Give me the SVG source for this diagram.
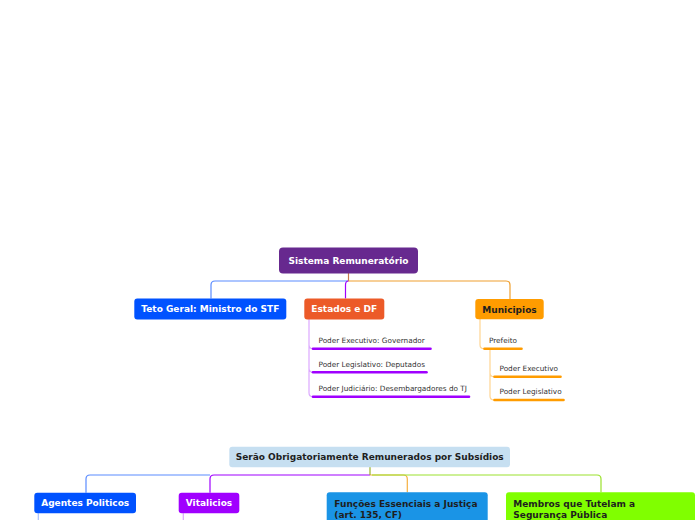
<svg xmlns="http://www.w3.org/2000/svg" width="696" height="520" viewBox="0 0 696 520">
<style>
.t{font-family:"DejaVu Sans","Verdana",sans-serif;font-weight:bold;font-size:9px;}
.w{fill:#ffffff;}
.d{fill:#1e1e1e;}
.s{font-family:"DejaVu Sans","Verdana",sans-serif;font-size:7.3px;fill:#333333;}
.c{fill:none;stroke-width:1.2;}
.u{fill:none;stroke-width:2.6;stroke-linecap:round;}
</style>
<rect width="696" height="520" fill="#ffffff"/>
<g id="connectors">
  <path class="c" stroke="#c9784a" stroke-width="2" d="M348.5,273 V281"/>
  <path class="c" stroke="#5b8cff" d="M348,281 H215 Q211,281 211,285 V298.5"/>
  <path class="c" stroke="#f0a030" d="M348,281 H506 Q510,281 510,285 V299"/>
  <path class="c" stroke="#a000ff" d="M348.5,281 Q345.5,281 345.5,285 V298.5"/>
  <path class="c" stroke="#dca8ff" d="M309,319 V344.7 Q309,348.7 313,348.7 M309,344 V368.3 Q309,372.3 313,372.3 M309,368 V392.7 Q309,396.7 313,396.7"/>
  <path class="c" stroke="#ffd592" d="M480,319 V344.7 Q480,348.7 484,348.7"/>
  <path class="c" stroke="#ffd592" d="M490,348.7 V372.7 Q490,376.7 494,376.7 M490,372 V396 Q490,400 494,400"/>
  <path class="c" stroke="#5b8cff" d="M210,475 H90 Q86,475 86,479 V492.7"/>
  <path class="c" stroke="#f5b040" d="M370,475 H403.3 Q407.3,475 407.3,479 V492.3"/>
  <path class="c" stroke="#9be22e" d="M372,475 H597 Q601,475 601,479 V492.3"/>
  <path class="c" stroke="#a000ff" d="M370,475 H214 Q210,475 210,479 V492.7"/>
  <path class="c" stroke="#9ab32a" stroke-width="2" d="M370,467 V475"/>
  <path class="c" stroke="#a8c0ff" d="M38.3,513.3 V520"/>
  <path class="c" stroke="#dca8ff" d="M183.3,513.3 V520"/>
</g>
<g id="root">
  <rect x="279" y="247.5" width="139" height="26" rx="4" fill="#67298f"/>
  <text class="t w" x="348.5" y="264.3" text-anchor="middle">Sistema Remuneratório</text>
</g>
<g id="teto">
  <rect x="134.3" y="298.5" width="152" height="21" rx="3" fill="#0052ff"/>
  <text class="t w" x="210.3" y="312.2" text-anchor="middle">Teto Geral: Ministro do STF</text>
</g>
<g id="estados">
  <rect x="304.3" y="298.5" width="80" height="21" rx="3" fill="#ec5a28"/>
  <text class="t w" x="344.3" y="312.2" text-anchor="middle">Estados e DF</text>
</g>
<g id="est-exec">
  <text class="s" x="318.5" y="343">Poder Executivo: Governador</text>
  <path class="u" stroke="#a000ff" d="M313,348.7 H430.5"/>
</g>
<g id="est-leg">
  <text class="s" x="318.5" y="366.8">Poder Legislativo: Deputados</text>
  <path class="u" stroke="#a000ff" d="M313,372.3 H426.5"/>
</g>
<g id="est-jud">
  <text class="s" x="318.5" y="391">Poder Judiciário: Desembargadores do TJ</text>
  <path class="u" stroke="#a000ff" d="M313,396.7 H469"/>
</g>
<g id="municipios">
  <rect x="475.3" y="299" width="68.4" height="20.3" rx="3" fill="#ff9c00"/>
  <text class="t d" x="509.5" y="312.5" text-anchor="middle">Municipios</text>
</g>
<g id="prefeito">
  <text class="s" x="489" y="343">Prefeito</text>
  <path class="u" stroke="#ff9c00" d="M484.5,348.7 H521.5"/>
</g>
<g id="mun-exec">
  <text class="s" x="499.5" y="371">Poder Executivo</text>
  <path class="u" stroke="#ff9c00" d="M494.5,376.7 H560.5"/>
</g>
<g id="mun-leg">
  <text class="s" x="499.5" y="394.3">Poder Legislativo</text>
  <path class="u" stroke="#ff9c00" d="M494.5,400 H563.5"/>
</g>
<g id="subsidios">
  <rect x="229.3" y="446.7" width="280.7" height="20.6" rx="3" fill="#c6dff1"/>
  <text class="t d" x="369.7" y="460.2" text-anchor="middle">Serão Obrigatoriamente Remunerados por Subsídios</text>
</g>
<g id="agentes">
  <rect x="34.3" y="492.7" width="101.7" height="20.6" rx="3" fill="#0052ff"/>
  <text class="t w" x="85.2" y="506.2" text-anchor="middle">Agentes Politicos</text>
</g>
<g id="vitalicios">
  <rect x="178.7" y="492.7" width="60.6" height="20.6" rx="3" fill="#a000ff"/>
  <text class="t w" x="209" y="506.2" text-anchor="middle">Vitalicios</text>
</g>
<g id="funcoes">
  <rect x="326.7" y="492.3" width="161" height="40" rx="3" fill="#1a94e6"/>
  <text class="t d" x="334.3" y="506.6">Funções Essenciais a Justiça</text>
  <text class="t d" x="334.3" y="517.8">(art. 135, CF)</text>
</g>
<g id="membros">
  <rect x="506" y="492.3" width="189" height="40" rx="3" fill="#80ff00"/>
  <text class="t d" x="513.3" y="506.6">Membros que Tutelam a</text>
  <text class="t d" x="513.3" y="517.8">Segurança Pública</text>
</g>
</svg>
